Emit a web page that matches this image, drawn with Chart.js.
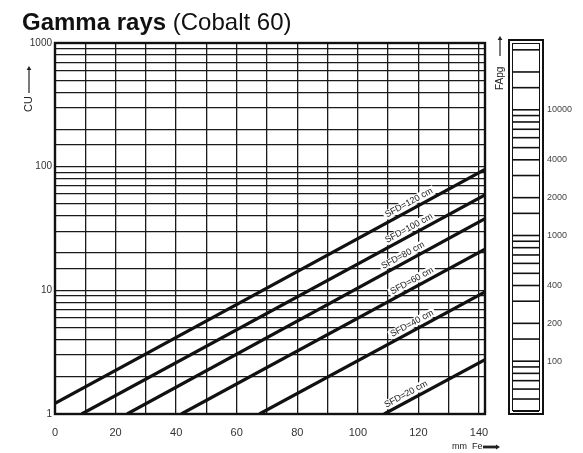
<!DOCTYPE html>
<html>
<head>
<meta charset="utf-8">
<script src="https://cdn.jsdelivr.net/npm/chart.js@4.4.0/dist/chart.umd.min.js"></script>
<style>
  html, body { margin: 0; padding: 0; background: #fff; }
  #wrap { width: 583px; height: 453px; }
</style>
</head>
<body>
<div id="wrap"><canvas id="chart" width="583" height="453"></canvas></div>
<script>
// values
const sfdLabels = ["SFD=120 cm", "SFD=100 cm", "SFD=80 cm", "SFD=60 cm", "SFD=40 cm", "SFD=20 cm"];
const lineStartX = [0, 8.8, 23.8, 41.7, 67.5, 108.7];
const lineStartY = [1.22, 1, 1, 1, 1, 1];
const lineEndX = [142, 142, 142, 142, 142, 142];
const lineEndY = [95, 59, 38, 21.5, 9.7, 2.75];
const labelAtX = [118, 118, 116, 119, 119, 117];
const yTickLabels = [1, 10, 100, 1000];
const xTickLabels = [0, 20, 40, 60, 80, 100, 120, 140];
const faTickLabels = [100, 200, 400, 1000, 2000, 4000, 10000];

Chart.defaults.font.family = "'Liberation Sans', Arial, sans-serif";

const datasets = sfdLabels.map((name, i)=>({
  label: name,
  data: [{x: lineStartX[i], y: lineStartY[i]}, {x: lineEndX[i], y: lineEndY[i]}],
  borderColor: "#111",
  borderWidth: 3.2,
  pointRadius: 0,
  tension: 0,
  fill: false
}));

function arrow(ctx, x1, y1, x2, y2, w, head){
  ctx.save();
  ctx.strokeStyle = "#222";
  ctx.fillStyle = "#222";
  ctx.lineWidth = w;
  ctx.beginPath();
  ctx.moveTo(x1, y1);
  ctx.lineTo(x2, y2);
  ctx.stroke();
  const a = Math.atan2(y2 - y1, x2 - x1);
  ctx.beginPath();
  ctx.moveTo(x2 + Math.cos(a) * head, y2 + Math.sin(a) * head);
  ctx.lineTo(x2 + Math.cos(a + Math.PI / 2) * head * 0.6, y2 + Math.sin(a + Math.PI / 2) * head * 0.6);
  ctx.lineTo(x2 + Math.cos(a - Math.PI / 2) * head * 0.6, y2 + Math.sin(a - Math.PI / 2) * head * 0.6);
  ctx.closePath();
  ctx.fill();
  ctx.restore();
}

function vText(ctx, text, x, y, size){
  ctx.save();
  ctx.translate(x, y);
  ctx.rotate(-Math.PI / 2);
  ctx.font = size + "px 'Liberation Sans', Arial, sans-serif";
  ctx.fillStyle = "#222";
  ctx.textBaseline = "middle";
  ctx.fillText(text, 0, 0);
  ctx.restore();
}

const decorations = {
  id: "decorations",
  afterDraw(chart){
    const ctx = chart.ctx;
    const area = chart.chartArea;
    const xs = chart.scales.x, ys = chart.scales.y, fa = chart.scales.y2;

    // title
    ctx.save();
    ctx.fillStyle = "#111";
    ctx.textBaseline = "alphabetic";
    ctx.font = "bold 24px 'Liberation Sans', Arial, sans-serif";
    ctx.fillText("Gamma rays", 22, 30);
    const w = ctx.measureText("Gamma rays ").width;
    ctx.font = "24px 'Liberation Sans', Arial, sans-serif";
    ctx.fillText("(Cobalt 60)", 22 + w, 30);
    ctx.restore();

    // plot frame
    ctx.save();
    ctx.strokeStyle = "#111";
    ctx.lineWidth = 2.4;
    ctx.strokeRect(area.left, area.top, area.right - area.left, area.bottom - area.top);
    ctx.restore();

    // line labels
    chart.data.datasets.forEach((ds, i)=>{
      const p0 = ds.data[0], p1 = ds.data[1];
      const x0 = xs.getPixelForValue(p0.x), y0 = ys.getPixelForValue(p0.y);
      const x1 = xs.getPixelForValue(p1.x), y1 = ys.getPixelForValue(p1.y);
      const t = (labelAtX[i] - p0.x) / (p1.x - p0.x);
      const px = x0 + (x1 - x0) * t, py = y0 + (y1 - y0) * t;
      ctx.save();
      ctx.translate(px, py);
      ctx.rotate(Math.atan2(y1 - y0, x1 - x0));
      ctx.font = "9px 'Liberation Sans', Arial, sans-serif";
      const tw = ctx.measureText(ds.label).width;
      ctx.fillStyle = "#fff";
      ctx.fillRect(-tw / 2 - 2, -11.5, tw + 4, 9);
      ctx.fillStyle = "#222";
      ctx.textAlign = "center";
      ctx.textBaseline = "middle";
      ctx.fillText(ds.label, 0, -7);
      ctx.restore();
    });

    // y title
    vText(ctx, "CU", 29, 112, 11);
    arrow(ctx, 29, 93, 29, 70, 1.2, 4);

    // x title
    ctx.save();
    ctx.font = "9px 'Liberation Sans', Arial, sans-serif";
    ctx.fillStyle = "#222";
    ctx.textBaseline = "middle";
    ctx.fillText("mm  Fe", 452, 447);
    ctx.restore();
    arrow(ctx, 483, 447, 496, 447, 2.8, 4);

    // right scale box
    const bx = 509, bw = 34, btop = area.top - 3, bbot = area.bottom;
    ctx.save();
    ctx.strokeStyle = "#111";
    ctx.lineWidth = 2;
    ctx.strokeRect(bx, btop, bw, bbot - btop);
    ctx.lineWidth = 1;
    ctx.strokeRect(bx + 3.5, btop + 3.5, bw - 7, bbot - btop - 7);
    ctx.lineWidth = 1.6;
    fa.ticks.forEach((tk)=>{
      const y = fa.getPixelForValue(tk.value);
      if(y < btop + 5 || y > bbot - 2){ return; }
      ctx.beginPath();
      ctx.moveTo(bx + 4, y);
      ctx.lineTo(bx + bw - 4, y);
      ctx.stroke();
    });
    ctx.restore();

    // right scale title
    vText(ctx, "FApg", 500, 90, 10);
    arrow(ctx, 500, 56, 500, 40, 1.2, 4);
  }
};

new Chart(document.getElementById("chart"), {
  type: "line",
  data: {datasets: datasets},
  options: {
    responsive: false,
    animation: false,
    devicePixelRatio: 1,
    layout: {padding: {top: 43, left: 0, right: 0, bottom: 0}},
    plugins: {legend: {display: false}, tooltip: {enabled: false}, title: {display: false}},
    scales: {
      x: {
        type: "linear",
        min: 0,
        max: 142,
        grid: {color: "#1a1a1a", lineWidth: 1.3, drawTicks: false},
        border: {display: false},
        ticks: {
          stepSize: 10,
          includeBounds: false,
          autoSkip: false,
          maxRotation: 0,
          padding: 12,
          color: "#333",
          font: {size: 11},
          callback: (v)=> xTickLabels.includes(v) ? String(v) : ""
        },
        afterFit: (s)=>{ s.height = 39; s.paddingLeft = 0; s.paddingRight = 0; }
      },
      y: {
        type: "logarithmic",
        min: 1,
        max: 1000,
        grid: {color: "#1a1a1a", lineWidth: 1.3, drawTicks: false},
        border: {display: false},
        ticks: {
          autoSkip: false,
          padding: 3,
          color: "#333",
          font: {size: 10},
          callback: (v)=> yTickLabels.includes(Math.round(v)) && Math.abs(v - Math.round(v)) < 1e-6 ? String(Math.round(v)) : ""
        },
        afterFit: (s)=>{ s.width = 55; s.paddingTop = 0; s.paddingBottom = 0; }
      },
      y2: {
        type: "logarithmic",
        position: "right",
        min: 38,
        max: 34000,
        grid: {display: false, drawTicks: false},
        border: {display: false},
        ticks: {
          autoSkip: false,
          padding: 62,
          color: "#444",
          font: {size: 9},
          callback: (v)=> faTickLabels.includes(Math.round(v)) ? String(Math.round(v)) : ""
        },
        afterFit: (s)=>{ s.width = 98; s.paddingTop = 0; s.paddingBottom = 0; }
      }
    }
  },
  plugins: [decorations]
});
</script>
</body>
</html>
